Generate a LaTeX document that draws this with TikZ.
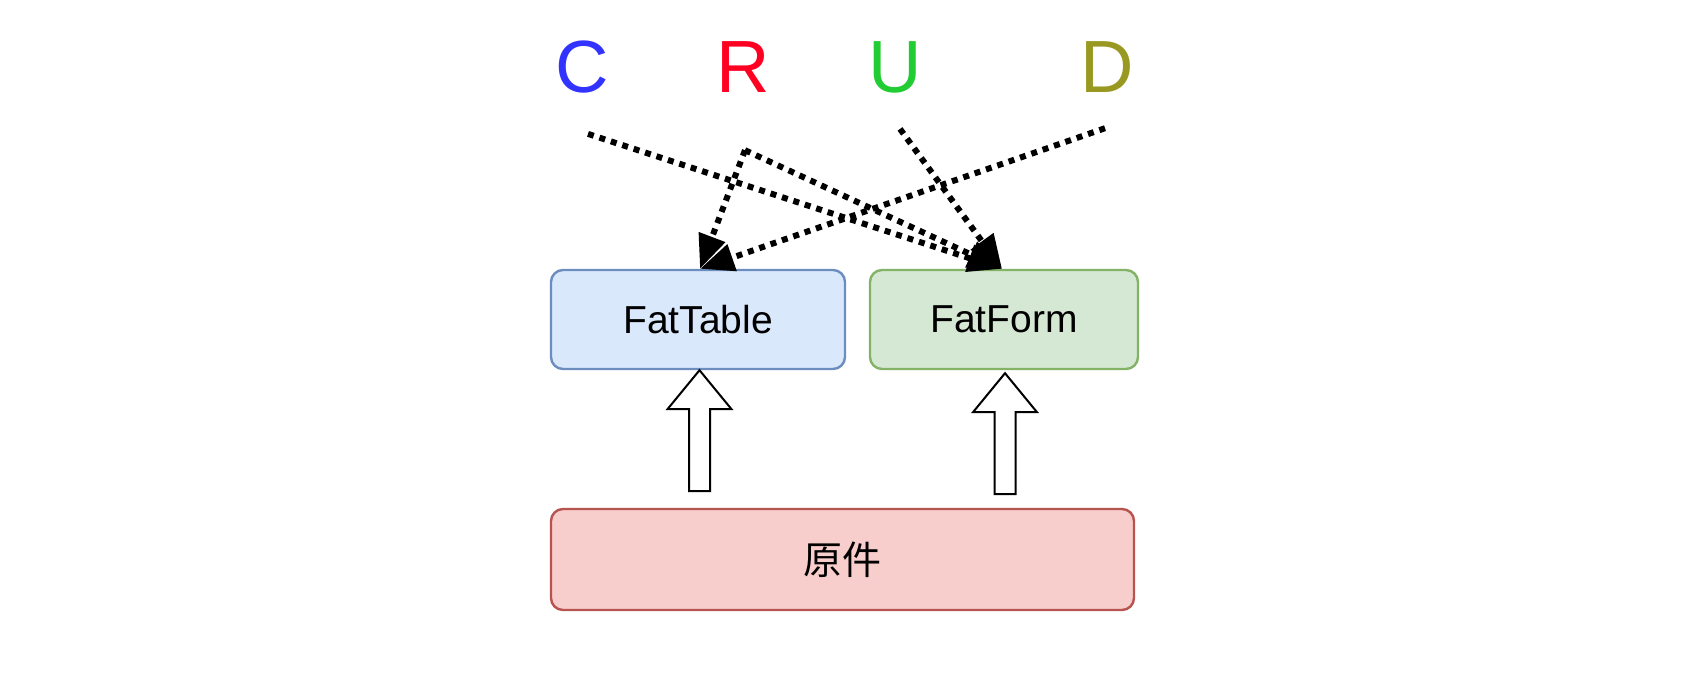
\documentclass[tikz,border=0pt]{standalone}
\usepackage{fontspec}
\setmainfont{Liberation Sans}
\newfontfamily\cjkfont{Noto Sans CJK SC}
\usetikzlibrary{arrows.meta}

\definecolor{crudC}{HTML}{3333FF}
\definecolor{crudR}{HTML}{FF0022}
\definecolor{crudU}{HTML}{22CC33}
\definecolor{crudD}{HTML}{999922}
\definecolor{tabfill}{HTML}{DAE8FC}
\definecolor{tabline}{HTML}{6C8EBF}
\definecolor{formfill}{HTML}{D5E8D4}
\definecolor{formline}{HTML}{82B366}
\definecolor{origfill}{HTML}{F8CECC}
\definecolor{origline}{HTML}{B85450}

\begin{document}
\begin{tikzpicture}[x=1pt,y=-1pt,
    crud/.style={text=#1,inner sep=0,anchor=base,font=\fontsize{74}{89}\selectfont},
    box/.style 2 args={fill=#1,draw=#2,line width=2.4pt,rounded corners=12pt,
      minimum height=99pt,font=\fontsize{39}{47}\selectfont},
    dots/.style={line width=6pt,dash pattern=on 6pt off 6pt,
      -{Triangle[length=34pt,width=27pt]}},
    fat/.style={draw=black,line width=2pt,fill=white,line join=miter}]
  \useasboundingbox (0,0) rectangle (1696,682);
  \draw
    (582,93) node[crud=crudC] (c){C}
    (743,93) node[crud=crudR] (r){R}
    (895,93) node[crud=crudU] (u){U}
    (1107,93) node[crud=crudD] (d){D};
  \draw
    (698,319.5) node[box={tabfill}{tabline},minimum width=294pt] (tab){\raisebox{-2pt}{FatTable}}
    (1004,319.5) node[box={formfill}{formline},minimum width=268pt] (form){\raisebox{-2pt}{FatForm}}
    (842.5,559.5) node[box={origfill}{origline},minimum width=583pt,minimum height=101pt] (orig){\cjkfont 原件};
  % hollow arrows from orig up to the two boxes
  \begin{scope}[fat]
    \draw ([xshift=1.5pt]tab.south) -- ++(32,39) -- ++(-21.5,0) -- ++(0,82)
      -- ++(-21,0) -- ++(0,-82) -- ++(-21.5,0) -- cycle;
    \draw ([shift={(1,3)}]form.south) -- ++(32,39) -- ++(-21.5,0) -- ++(0,82)
      -- ++(-21,0) -- ++(0,-82) -- ++(-21.5,0) -- cycle;
  \end{scope}
  % crud links
  \begin{scope}[dots]
    \draw ([shift={(6,40)}]c.south) -- ([xshift=-2pt]form.north);
    \draw ([shift={(2,57)}]r.south) -- ([xshift=2pt]tab.north);
    \draw ([shift={(2,57)}]r.south) -- ([xshift=-2pt]form.north);
    \draw ([shift={(5,35)}]u.south) -- ([xshift=-2pt]form.north);
    \draw ([shift={(-2,35)}]d.south) -- ([xshift=2pt]tab.north);
  \end{scope}
\end{tikzpicture}
\end{document}
